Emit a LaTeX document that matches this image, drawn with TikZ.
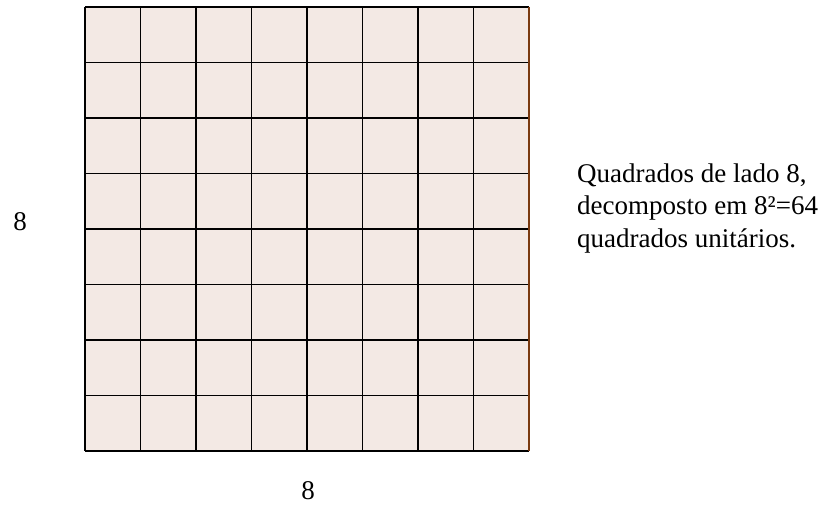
\documentclass[tikz,border=0pt]{standalone}
\usepackage{fontspec}
\setmainfont{Liberation Serif}
\usepackage{xcolor}
\definecolor{cellfill}{HTML}{F3E9E4}
\definecolor{rimbrown}{HTML}{7A3A10}

\begin{document}
\begin{tikzpicture}[x=1pt,y=-1pt,
      gridline/.style={black, line width=1.4pt},  % the lines of the grid
      label/.style={font=\fontsize{27}{32.5}\selectfont, inner sep=0pt}
    ]
    \useasboundingbox (0,0) rectangle (826,506);
    \fill[cellfill] (85,7) rectangle (529,451);
    \foreach \i in {0,...,8} {
        \draw[gridline] (85+55.5*\i,7) -- (85+55.5*\i,451);
        \draw[gridline] (85,7+55.5*\i) -- (529,7+55.5*\i);
    }
    \draw[rimbrown, line width=1.4pt] (529,7) -- (529,451);
    \draw[black, line width=2pt] (85,7) -- (85,451);
    \node[label] (side) at (20,222) {8};
    \node[label] (base) at (308,491) {8};
    % base of a multi-line node is its last line
    \node[label, anchor=base west, align=left] (caption) at (577,247)
        {Quadrados de lado 8,\\decomposto em 8²=64\\quadrados unitários.};
\end{tikzpicture}
\end{document}
